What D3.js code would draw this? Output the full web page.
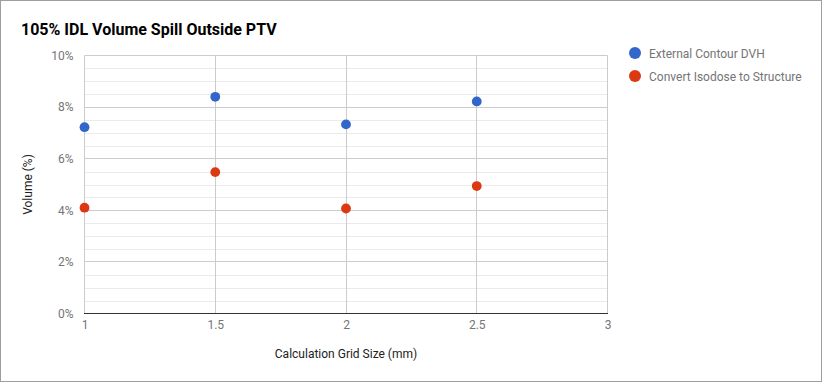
<!DOCTYPE html>
<html><head><meta charset="utf-8">
<script src="https://cdn.jsdelivr.net/npm/d3@7"></script>
<style>body{margin:0;background:#fff;}svg{display:block;font-family:Roboto,sans-serif;}</style>
</head><body>
<script>
const gridSizes = [1, 1.5, 2, 2.5];
const externalContour = [7.22, 8.40, 7.33, 8.22];
const convertIsodose = [4.10, 5.48, 4.07, 4.94];
const seriesNames = ["External Contour DVH", "Convert Isodose to Structure"];
const seriesColors = ["#3366cc", "#dc3912"];
const xTicks = [1, 1.5, 2, 2.5, 3];
const yTicks = [0, 2, 4, 6, 8, 10];

const W = 822, H = 382;
const svg = d3.select("body").append("svg").attr("width", W).attr("height", H);
svg.append("rect").attr("x",0.5).attr("y",0.5).attr("width",W-1).attr("height",H-1)
  .attr("fill","#fff").attr("stroke","#9e9e9e");

const x = d3.scaleLinear().domain([1,3]).range([84.5,607.5]);
const y = d3.scaleLinear().domain([0,10]).range([313.5,55.5]);

// minor gridlines
const minor = d3.range(0.5,10,0.5).filter(v=>v%2!==0);
svg.append("g").selectAll("line").data(minor).join("line")
  .attr("x1",x(1)).attr("x2",x(3)).attr("y1",d=>Math.round(y(d))+0.5).attr("y2",d=>Math.round(y(d))+0.5)
  .attr("stroke","#ebebeb");
// major y gridlines
svg.append("g").selectAll("line").data(yTicks.filter(d=>d>0)).join("line")
  .attr("x1",x(1)).attr("x2",x(3)).attr("y1",d=>Math.round(y(d)-0.5)+0.5).attr("y2",d=>Math.round(y(d)-0.5)+0.5)
  .attr("stroke","#cccccc");
// vertical gridlines
svg.append("g").selectAll("line").data(xTicks).join("line")
  .attr("x1",d=>Math.round(x(d)-0.5)+0.5).attr("x2",d=>Math.round(x(d)-0.5)+0.5).attr("y1",y(10)).attr("y2",y(0))
  .attr("stroke","#cccccc");
// baseline
svg.append("line").attr("x1",x(1)-0.5).attr("x2",x(3)+0.5).attr("y1",y(0)).attr("y2",y(0))
  .attr("stroke","#333").attr("stroke-width",1);

// y axis
const yAxis = d3.axisLeft(y).tickValues(yTicks).tickSize(0).tickPadding(11).tickFormat(d=>d+"%");
const gy = svg.append("g").attr("transform",`translate(${x(1)},0)`).call(yAxis);
gy.select(".domain").remove();
gy.selectAll("text").attr("fill","#757575").attr("font-size",12).attr("font-family","Roboto");
// x axis
const xAxis = d3.axisBottom(x).tickValues(xTicks).tickSize(0).tickPadding(7).tickFormat(d3.format("~g"));
const gx = svg.append("g").attr("transform",`translate(0,${y(0)})`).call(xAxis);
gx.select(".domain").remove();
gx.selectAll("text").attr("fill","#757575").attr("font-size",12).attr("font-family","Roboto");

// points
const series = [externalContour, convertIsodose];
series.forEach((vals,i)=>{
  svg.append("g").selectAll("circle").data(vals).join("circle")
    .attr("cx",(d,j)=>x(gridSizes[j])).attr("cy",d=>y(d)).attr("r",4.9)
    .attr("fill",seriesColors[i]);
});

// title
svg.append("text").attr("x",21).attr("y",35).attr("font-size",16).attr("font-weight","bold")
  .attr("fill","#000").text("105% IDL Volume Spill Outside PTV");
// axis titles
svg.append("text").attr("x",(x(1)+x(3))/2).attr("y",358).attr("text-anchor","middle")
  .attr("font-size",12).attr("fill","#222").text("Calculation Grid Size (mm)");
svg.append("text").attr("transform",`translate(32,${(y(0)+y(10))/2}) rotate(-90)`).attr("text-anchor","middle")
  .attr("font-size",12).attr("fill","#222").text("Volume (%)");

// legend
const lg = svg.append("g").selectAll("g").data(seriesNames).join("g")
  .attr("transform",(d,i)=>`translate(635,${53+i*23})`);
lg.append("circle").attr("r",6).attr("fill",(d,i)=>seriesColors[i]);
lg.append("text").attr("x",14).attr("y",4.5).attr("font-size",12).attr("fill","#757575").text(d=>d);
</script>
</body></html>
